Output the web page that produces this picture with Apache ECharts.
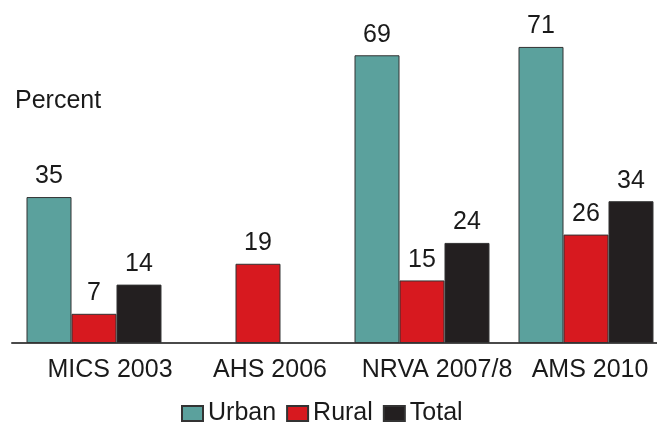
<!DOCTYPE html>
<html><head><meta charset="utf-8">
<script src="https://cdn.jsdelivr.net/npm/echarts@6/dist/echarts.min.js"></script>
<style>html,body{margin:0;padding:0;background:#fff;overflow:hidden}#c{width:668px;height:423px}</style>
</head><body><div id="c"></div>
<script>
const categories = ['MICS 2003', 'AHS 2006', 'NRVA 2007/8', 'AMS 2010'];
const urban = [35, null, 69, 71];
const rural = [7, 19, 15, 26];
const total = [14, null, 24, 34];
const seriesNames = ['Urban', 'Rural', 'Total'];
const colors = ['#5BA19D', '#D7191F', '#231F20'];
const labelShift = [32, 24, 30, 8];

const font = 'Liberation Sans, Arial, sans-serif';
const chart = echarts.init(document.getElementById('c'));
const mk = (name, data, color) => ({
  name, type: 'bar', data, barGap: 0, barCategoryGap: '17.7%',
  itemStyle: { color, borderColor: '#333', borderWidth: 1 },
  label: { show: true, position: 'top', distance: 8, color: '#1a1a1a', fontSize: 25, fontFamily: font },
  animation: false
});
chart.setOption({
  animation: false,
  grid: { left: 12, right: 0, top: 9.4, bottom: 80, containLabel: false },
  title: { text: 'Percent', left: 10, top: 84, textStyle: { fontSize: 25, fontWeight: 'normal', color: '#1a1a1a', fontFamily: font } },
  legend: {
    data: seriesNames, top: 396, left: 176, itemWidth: 21, itemHeight: 15, itemGap: 10,
    textStyle: { fontSize: 25, color: '#1a1a1a', fontFamily: font },
    icon: 'rect'
  },
  xAxis: {
    type: 'category',
    data: categories.map((c, i) => ({ value: c, textStyle: { padding: [0, 0, 0, labelShift[i]] } })),
    axisLine: { lineStyle: { color: '#4a4a4a', width: 2 } },
    axisTick: { show: false },
    axisLabel: { fontSize: 25, color: '#1a1a1a', fontFamily: font, margin: 15, interval: 0 }
  },
  yAxis: { type: 'value', min: 0, max: 80, show: false },
  series: [mk('Urban', urban, colors[0]), mk('Rural', rural, colors[1]), mk('Total', total, colors[2])]
});
</script></body></html>
